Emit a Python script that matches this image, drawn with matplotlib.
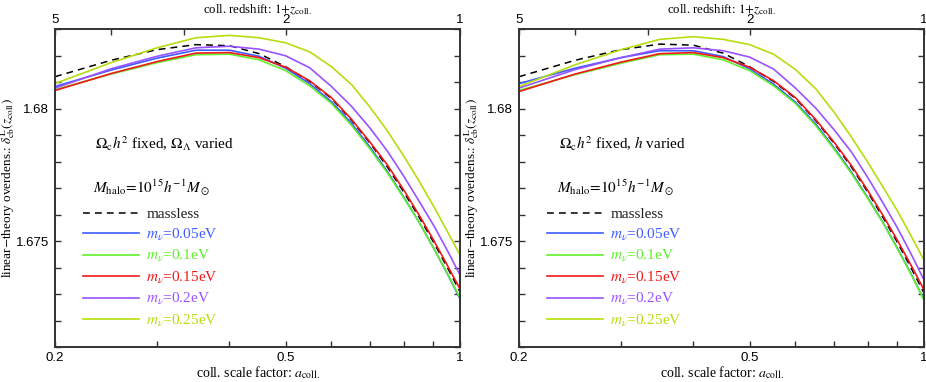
import numpy as np
import matplotlib
matplotlib.use("Agg")
import matplotlib.pyplot as plt
from matplotlib.ticker import FixedLocator, NullFormatter, FixedFormatter, MultipleLocator

plt.rcParams['font.family'] = ['Liberation Serif', 'DejaVu Serif']
plt.rcParams['mathtext.fontset'] = 'stix'

# collapse scale factor
a_coll = [0.20, 0.25, 0.30, 0.35, 0.40, 0.45, 0.50, 0.55, 0.60, 0.65,
          0.70, 0.75, 0.80, 0.85, 0.90, 0.95, 1.00]

# Left panel: Omega_c h^2 fixed, Omega_Lambda varied
left_massless = [1.68120, 1.68182, 1.68222, 1.68241, 1.68237, 1.68207, 1.68158, 1.68102, 1.68038,
                 1.67955, 1.67868, 1.67778, 1.67684, 1.67590, 1.67496, 1.67402, 1.67308]
left_m005 = [1.68083, 1.68145, 1.68190, 1.68220, 1.68220, 1.68197, 1.68152, 1.68094, 1.68026,
             1.67944, 1.67853, 1.67761, 1.67665, 1.67571, 1.67474, 1.67378, 1.67282]
left_m010 = [1.68071, 1.68130, 1.68173, 1.68203, 1.68205, 1.68184, 1.68143, 1.68086, 1.68019,
             1.67936, 1.67846, 1.67756, 1.67662, 1.67571, 1.67474, 1.67380, 1.67286]
left_m015 = [1.68068, 1.68132, 1.68177, 1.68209, 1.68211, 1.68192, 1.68156, 1.68105, 1.68041,
             1.67959, 1.67872, 1.67786, 1.67692, 1.67598, 1.67504, 1.67410, 1.67319]
left_m020 = [1.68077, 1.68150, 1.68197, 1.68229, 1.68235, 1.68224, 1.68199, 1.68154, 1.68083,
             1.68008, 1.67925, 1.67838, 1.67744, 1.67650, 1.67560, 1.67466, 1.67372]
left_m025 = [1.68094, 1.68173, 1.68229, 1.68267, 1.68276, 1.68267, 1.68248, 1.68214, 1.68158,
             1.68090, 1.68004, 1.67914, 1.67820, 1.67726, 1.67632, 1.67538, 1.67447]

# Right panel: Omega_c h^2 fixed, h varied
right_massless = [1.68120, 1.68182, 1.68222, 1.68243, 1.68239, 1.68209, 1.68158, 1.68102, 1.68038,
                  1.67955, 1.67868, 1.67778, 1.67684, 1.67588, 1.67494, 1.67398, 1.67304]
right_m005 = [1.68094, 1.68152, 1.68192, 1.68218, 1.68218, 1.68196, 1.68150, 1.68092, 1.68024,
              1.67942, 1.67851, 1.67759, 1.67663, 1.67569, 1.67472, 1.67376, 1.67278]
right_m010 = [1.68068, 1.68128, 1.68171, 1.68203, 1.68205, 1.68184, 1.68143, 1.68086, 1.68019,
              1.67936, 1.67846, 1.67754, 1.67660, 1.67568, 1.67470, 1.67374, 1.67278]
right_m015 = [1.68064, 1.68130, 1.68175, 1.68207, 1.68211, 1.68192, 1.68156, 1.68105, 1.68041,
              1.67959, 1.67872, 1.67784, 1.67690, 1.67596, 1.67502, 1.67408, 1.67316]
right_m020 = [1.68077, 1.68147, 1.68192, 1.68224, 1.68229, 1.68218, 1.68194, 1.68149, 1.68077,
              1.68002, 1.67919, 1.67835, 1.67739, 1.67643, 1.67549, 1.67451, 1.67353]
right_m025 = [1.68083, 1.68165, 1.68222, 1.68261, 1.68271, 1.68261, 1.68241, 1.68205, 1.68147,
              1.68075, 1.67985, 1.67891, 1.67797, 1.67703, 1.67613, 1.67519, 1.67428]

series_labels = ['massless', r'$m_\nu$=0.05eV', r'$m_\nu$=0.1eV', r'$m_\nu$=0.15eV',
                 r'$m_\nu$=0.2eV', r'$m_\nu$=0.25eV']
series_colors = ['black', '#3d5cff', '#5ef22a', '#f01818', '#9a52ff', '#b5de0e']
panel_titles = [r'$\Omega_{\rm c}h^2$ fixed, $\Omega_\Lambda$ varied',
                r'$\Omega_{\rm c}h^2$ fixed, $h$ varied']
mass_text = r'$M_{\rm halo}\!=\!10^{15}h^{-1}M_\odot$'

bottom_major = [0.2, 0.5, 1.0]
bottom_major_labels = ['0.2', '0.5', '1']
bottom_minor = [0.3, 0.4, 0.6, 0.7, 0.8, 0.9]
top_major_z = [5, 2, 1]
top_minor_z = [4, 3]

W, H = 926, 382
fig = plt.figure(figsize=(W / 100, H / 100), dpi=100)

panels = [
    (55, [left_massless, left_m005, left_m010, left_m015, left_m020, left_m025]),
    (519, [right_massless, right_m005, right_m010, right_m015, right_m020, right_m025]),
]

for idx, (x0, data) in enumerate(panels):
    ax = fig.add_axes([x0 / W, 1 - 347 / H, 405 / W, 318 / H])
    for j, ys in enumerate(data):
        if j == 0:
            ax.plot(a_coll, ys, color=series_colors[j], lw=1.1, dashes=(4.5, 3.3),
                    label=series_labels[j])
        else:
            ax.plot(a_coll, ys, color=series_colors[j], lw=1.2, label=series_labels[j])
    ax.set_xscale('log')
    ax.set_xlim(0.2, 1.0)
    ax.set_ylim(1.671, 1.683)
    ax.xaxis.set_major_locator(FixedLocator(bottom_major))
    ax.xaxis.set_major_formatter(FixedFormatter(bottom_major_labels))
    ax.xaxis.set_minor_locator(FixedLocator(bottom_minor))
    ax.xaxis.set_minor_formatter(NullFormatter())
    ax.yaxis.set_major_locator(FixedLocator([1.675, 1.68]))
    ax.yaxis.set_major_formatter(FixedFormatter(['1.675', '1.68']))
    ax.yaxis.set_minor_locator(MultipleLocator(0.001))
    ax.tick_params(which='both', direction='in', length=4, width=1.0, color='#333333',
                   top=False, right=True)
    ax.tick_params(axis='x', which='major', pad=3.5)
    ax.tick_params(axis='y', which='major', pad=4.5)
    for lab in ax.get_xticklabels() + ax.get_yticklabels():
        lab.set_fontfamily('Liberation Sans')
        lab.set_fontsize(9.5)
    for sp in ax.spines.values():
        sp.set_linewidth(1.2)
        sp.set_color('#333333')
    ax.set_xlabel(r'coll. scale factor: $a_{\rm coll.}$', fontsize=10, labelpad=0.5)
    ax.set_ylabel(r'linear$-$theory overdens.: $\delta^{\rm L}_{\rm cb}(z_{\rm coll})$',
                  fontsize=9.5)
    ax.yaxis.set_label_coords(-0.093, 0.5)

    # top axis: 1+z
    ax2 = ax.twiny()
    ax2.set_xscale('log')
    ax2.set_xlim(0.2, 1.0)
    ax2.xaxis.set_major_locator(FixedLocator([1.0 / z for z in top_major_z]))
    ax2.xaxis.set_major_formatter(FixedFormatter([str(z) for z in top_major_z]))
    ax2.xaxis.set_minor_locator(FixedLocator([1.0 / z for z in top_minor_z]))
    ax2.xaxis.set_minor_formatter(NullFormatter())
    ax2.tick_params(which='both', direction='in', length=4, width=1.0, color='#333333', pad=2.0)
    for lab in ax2.get_xticklabels():
        lab.set_fontfamily('Liberation Sans')
        lab.set_fontsize(9.5)
    for sp in ax2.spines.values():
        sp.set_linewidth(1.2)
        sp.set_color('#333333')
    ax2.set_xlabel(r'coll. redshift: $1\!+\!z_{\rm coll.}$', fontsize=9.2, labelpad=1.0)

    ax.text(0.099, 0.638, panel_titles[idx], transform=ax.transAxes, fontsize=11,
            va='center', ha='left')
    ax.text(0.094, 0.50, mass_text, transform=ax.transAxes, fontsize=11,
            va='center', ha='left')
    leg = ax.legend(loc='upper left', bbox_to_anchor=(0.069, 0.439), frameon=False,
                    fontsize=11, handlelength=3.7, handletextpad=0.45,
                    labelspacing=0.355, borderaxespad=0.0, borderpad=0.0)
    for txt, c in zip(leg.get_texts(), series_colors):
        txt.set_color('#222222' if c == 'black' else c)

fig.savefig('out.png', dpi=100)
